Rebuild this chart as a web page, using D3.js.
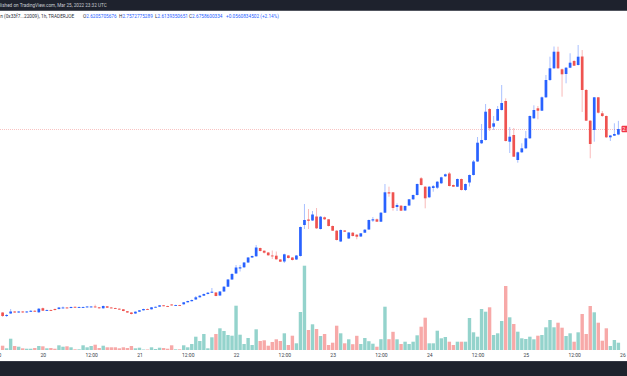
<!DOCTYPE html>
<html><head><meta charset="utf-8">
<script src="https://cdn.jsdelivr.net/npm/d3@7"></script>
<style>html,body{margin:0;padding:0;background:#fff;overflow:hidden}svg{display:block}</style>
</head><body><svg id="c" width="627" height="376"></svg>
<script>
// Hourly candles, first bar 2022-03-19 14:00 UTC
const firstBarUTC = [2022, 2, 19, 14];
const opens = [
0.841,0.806,0.831,0.851,0.841,0.851,0.843,0.848,0.858,0.843,
0.884,0.859,0.866,0.876,0.876,0.886,0.891,0.886,0.898,0.889,
0.891,0.893,0.896,0.901,0.893,0.883,0.903,0.891,0.886,0.879,
0.873,0.854,0.841,0.831,0.849,0.863,0.876,0.873,0.893,0.899,
0.913,0.906,0.921,0.911,0.916,0.923,0.943,0.954,0.971,0.993,
1.009,1.026,1.039,1.041,1.011,1.051,1.099,1.171,1.231,1.281,
1.293,1.341,1.391,1.403,1.486,1.459,1.441,1.411,1.409,1.371,
1.351,1.411,1.391,1.371,1.406,1.716,1.771,1.761,1.801,1.676,
1.793,1.773,1.706,1.659,1.551,1.661,1.581,1.639,1.619,1.601,
1.639,1.671,1.761,1.773,1.749,1.839,2.043,2.043,1.896,1.909,
1.861,1.911,1.973,2.016,2.183,2.099,1.993,2.086,2.089,2.133,
2.203,2.231,2.116,2.099,2.176,2.066,2.141,2.216,2.351,2.533,
2.566,2.876,2.699,2.759,2.866,2.956,2.549,2.616,2.366,2.443,
2.483,2.583,2.783,2.883,2.859,2.993,3.166,3.283,3.449,3.273,
3.226,3.289,3.356,3.316,3.401,3.066,2.759,2.666,2.993,2.833,
2.806,2.593,2.609,2.6206];
const highs = [
0.846,0.826,0.876,0.856,0.856,0.856,0.856,0.866,0.866,0.886,
0.891,0.871,0.871,0.881,0.896,0.901,0.896,0.901,0.901,0.901,
0.901,0.906,0.906,0.919,0.896,0.911,0.906,0.896,0.889,0.883,
0.876,0.856,0.846,0.853,0.866,0.879,0.881,0.896,0.901,0.916,
0.916,0.909,0.926,0.919,0.918,0.946,0.959,0.971,1.006,1.016,
1.031,1.046,1.086,1.046,1.056,1.106,1.176,1.236,1.316,1.316,
1.346,1.396,1.411,1.516,1.491,1.461,1.446,1.461,1.451,1.376,
1.429,1.416,1.396,1.416,1.701,1.926,1.876,1.856,1.886,1.806,
1.801,1.776,1.711,1.666,1.671,1.666,1.646,1.646,1.626,1.636,
1.676,1.771,1.796,1.781,1.846,2.126,2.099,2.046,1.933,1.916,
1.911,1.976,2.021,2.131,2.196,2.106,2.106,2.116,2.156,2.199,
2.231,2.246,2.121,2.181,2.181,2.131,2.221,2.366,2.596,2.726,
2.926,2.886,2.806,2.906,3.116,2.983,2.696,2.686,2.451,2.533,
2.656,2.811,2.913,2.906,3.001,3.216,3.399,3.501,3.499,3.281,
3.296,3.433,3.366,3.516,3.466,3.076,2.766,2.996,2.996,2.856,
2.811,2.616,2.733,2.7573];
const lows = [
0.796,0.796,0.826,0.836,0.836,0.836,0.836,0.846,0.846,0.836,
0.856,0.856,0.856,0.861,0.871,0.881,0.881,0.883,0.886,0.886,
0.886,0.889,0.891,0.889,0.879,0.879,0.886,0.883,0.876,0.866,
0.853,0.836,0.821,0.826,0.846,0.861,0.869,0.871,0.889,0.896,
0.903,0.899,0.909,0.909,0.908,0.919,0.941,0.951,0.966,0.991,
1.006,1.021,1.036,1.003,1.006,1.046,1.096,1.166,1.226,1.251,
1.286,1.336,1.386,1.399,1.451,1.431,1.409,1.376,1.369,1.346,
1.336,1.381,1.361,1.366,1.401,1.676,1.676,1.756,1.676,1.671,
1.766,1.701,1.656,1.561,1.546,1.646,1.576,1.601,1.573,1.596,
1.636,1.666,1.746,1.746,1.746,1.836,1.999,1.859,1.856,1.856,
1.856,1.906,1.966,2.011,2.111,1.883,1.986,2.049,2.076,2.126,
2.196,2.101,2.096,2.096,2.061,2.056,2.101,2.211,2.346,2.526,
2.561,2.656,2.666,2.756,2.861,2.551,2.436,2.396,2.339,2.436,
2.476,2.576,2.776,2.773,2.856,2.986,3.156,3.276,3.276,2.999,
3.133,3.286,3.306,3.311,2.846,2.756,2.383,2.549,2.831,2.796,
2.586,2.556,2.606,2.6139];
const closes = [
0.806,0.816,0.851,0.841,0.851,0.843,0.851,0.858,0.851,0.879,
0.859,0.866,0.863,0.866,0.891,0.891,0.884,0.896,0.891,0.896,
0.896,0.901,0.901,0.893,0.883,0.906,0.889,0.886,0.879,0.871,
0.856,0.841,0.826,0.849,0.863,0.876,0.873,0.893,0.898,0.913,
0.906,0.903,0.913,0.916,0.911,0.943,0.956,0.966,0.993,1.009,
1.026,1.039,1.049,1.006,1.051,1.099,1.171,1.226,1.291,1.293,
1.341,1.391,1.406,1.491,1.456,1.439,1.413,1.406,1.373,1.349,
1.423,1.386,1.366,1.411,1.696,1.766,1.758,1.821,1.683,1.799,
1.773,1.706,1.659,1.566,1.666,1.649,1.641,1.606,1.599,1.633,
1.669,1.766,1.773,1.749,1.839,2.043,2.031,1.886,1.916,1.859,
1.906,1.973,2.016,2.126,2.116,1.983,2.099,2.104,2.149,2.193,
2.223,2.106,2.099,2.176,2.066,2.126,2.216,2.351,2.539,2.566,
2.849,2.683,2.733,2.876,2.936,2.556,2.599,2.399,2.443,2.483,
2.583,2.806,2.866,2.859,2.993,3.166,3.283,3.449,3.283,3.223,
3.289,3.339,3.309,3.399,3.066,2.759,2.526,2.993,2.839,2.806,
2.593,2.611,2.626,2.6759];
// volume in thousands
const volumes = [
4.3,1.7,11.3,4,3.3,1.7,1.3,1.3,2,4,
3.7,1.7,2,1.3,4.7,3.3,3.7,2.7,0.7,0.7,
4.7,2.7,4,5.3,2,4.3,2.7,2.7,2.7,1.7,
2.7,2,4,1.7,2.3,0.5,0.5,2.7,1,2.3,
2,1.3,4.7,0.7,0.7,4.7,2.7,6,13.3,9,
16,1.7,12.7,16,21.7,19,15,14.3,44.3,15.3,
6,12,5,20.7,9,9.7,4.3,8,10.7,9,
16.7,5,14.3,6.7,38,84.3,20,25.7,21,14,
16,5,7.3,24.3,16.7,6.7,10.7,5.8,14.2,6,
12,8.8,6.3,3.3,10.8,43.3,10.8,18.2,10.7,6,
8.3,6,8.3,14.7,23.3,32.3,6.7,6.7,19.3,11.7,
13,8.3,5,8.3,8.3,8.3,32,17.7,13.3,41,
38.3,42.7,15,16.7,29,64,32.7,26,18.3,11.7,
11,13.3,10.7,14.3,15,22.7,30,22.7,27.3,22.3,
14,16.7,8.3,17.7,36,16,44,37.7,27.3,9.3,
21.7,4,10,7.3];
const lastPrice = 2.6759;
const headerText = "Published on TradingView.com, Mar 25, 2022 23:32 UTC";
const symbolText = "n (0x33f7...22009), 1h, TRADERJOE";
const ohlcLabels = ["O", "H", "L", "C"];
const ohlcValues = ["2.6205705676", "2.7572775289", "2.6139350651", "2.6758600334"];
const changeText = "+0.0560834502 (+2.14%)";

const W = 627, H = 376;
const svg = d3.select("#c");
const FONT = "Roboto, 'Noto Sans', sans-serif";
const UP = "#2962ff", DOWN = "#ef5350";

const times = opens.map((_, i) => new Date(Date.UTC(firstBarUTC[0], firstBarUTC[1], firstBarUTC[2], firstBarUTC[3] + i)));
const candles = opens.map((o, i) => ({t: times[i], o, h: highs[i], l: lows[i], c: closes[i], v: volumes[i]}));

const x = d3.scaleUtc().domain([times[0], times[times.length - 1]]).range([2.6, 618.4]);
const y = d3.scaleLinear().domain([0.466, 3.966]).range([350, 0]);
const yv = d3.scaleLinear().domain([0, 100]).range([350, 250]);

svg.append("rect").attr("width", W).attr("height", H).attr("fill", "#fff");

// volumes
svg.append("g").selectAll("rect").data(candles).join("rect")
  .attr("x", d => x(d.t) - 1.7).attr("width", 3.4)
  .attr("y", d => yv(d.v)).attr("height", d => yv(0) - yv(d.v))
  .attr("fill", d => d.c >= d.o ? "#94d3cc" : "#f7a9a8");

// last price line
svg.append("line").attr("x1", 0).attr("x2", W).attr("y1", Math.round(y(lastPrice)) + 0.5).attr("y2", Math.round(y(lastPrice)) + 0.5)
  .attr("stroke", "rgba(239,83,80,0.35)").attr("stroke-width", 1).attr("stroke-dasharray", "1,1");

// wicks
svg.append("g").selectAll("line").data(candles).join("line")
  .attr("x1", d => x(d.t)).attr("x2", d => x(d.t))
  .attr("y1", d => y(d.h)).attr("y2", d => y(d.l))
  .attr("stroke", d => d.c >= d.o ? "rgba(41,98,255,0.4)" : "rgba(239,83,80,0.4)")
  .attr("stroke-width", 1);

// bodies
svg.append("g").selectAll("rect").data(candles).join("rect")
  .attr("x", d => x(d.t) - 1.35).attr("width", 2.7)
  .attr("y", d => y(Math.max(d.o, d.c)))
  .attr("height", d => Math.max(0.9, Math.abs(y(d.o) - y(d.c))))
  .attr("fill", d => d.c >= d.o ? UP : DOWN);

// price label
const py = y(lastPrice);
svg.append("rect").attr("x", 621.5).attr("y", py - 3.3).attr("width", 40).attr("height", 6.6).attr("rx", 1).attr("fill", "#f23645");
svg.append("text").attr("x", 622.6).attr("y", py + 1.8).attr("font-family", FONT).attr("font-size", 5).attr("fill", "#fff").text(lastPrice.toFixed(4));

// time axis
const tickVals = d3.utcHour.every(12).range(new Date(Date.UTC(2022, 2, 19, 12)), new Date(Date.UTC(2022, 2, 26, 0, 1)));
const ax = svg.append("g").attr("transform", "translate(0,351)")
  .call(d3.axisBottom(x).tickValues(tickVals).tickSize(0).tickPadding(0)
    .tickFormat(d => d.getUTCHours() === 0 ? String(d.getUTCDate()) : "12:00"));
ax.select(".domain").remove();
ax.selectAll("text").attr("font-family", FONT).attr("font-size", 5).attr("fill", "#3b3f4a").attr("dy", 0).attr("y", 6.4);

// bottom dark bar
svg.append("rect").attr("x", 0).attr("y", 361).attr("width", W).attr("height", 15).attr("fill", "#1e222d");
svg.append("rect").attr("x", 0).attr("y", 361).attr("width", W).attr("height", 0.8).attr("fill", "#3a3e4a");

// top dark bar
svg.append("rect").attr("x", 0).attr("y", 0).attr("width", W).attr("height", 10.5).attr("fill", "#1e222d");
svg.append("rect").attr("x", 0).attr("y", 10).attr("width", W).attr("height", 0.8).attr("fill", "#434651");

function measure(str, size) {
  const t = svg.append("text").attr("font-family", FONT).attr("font-size", size).text(str);
  const w = t.node().getComputedTextLength(); t.remove(); return w;
}
// header (cropped on the left)
const visHeader = headerText.slice(3);
const hs = 10 * 107 / measure(visHeader, 10);
const cut = measure(headerText.slice(0, 3), hs);
svg.append("text").attr("x", -cut).attr("y", 7.3).attr("font-family", FONT).attr("font-size", hs).attr("fill", "#c9ccd4").text(headerText);

// legend
const ls = 10 * 53 / measure(changeText, 10);
const lg = svg.append("g").attr("font-family", FONT).attr("font-size", ls);
const ly = 18;
lg.append("text").attr("x", 0.3).attr("y", ly).attr("fill", "#2a2e39").text(symbolText);
const starts = [83, 119, 155, 189];
ohlcLabels.forEach((lab, i) => {
  const t = lg.append("text").attr("x", starts[i]).attr("y", ly);
  t.append("tspan").attr("fill", "#2a2e39").text(lab);
  t.append("tspan").attr("fill", UP).text(ohlcValues[i]);
});
lg.append("text").attr("x", 226).attr("y", ly).attr("fill", UP).text(changeText);
</script></body></html>
